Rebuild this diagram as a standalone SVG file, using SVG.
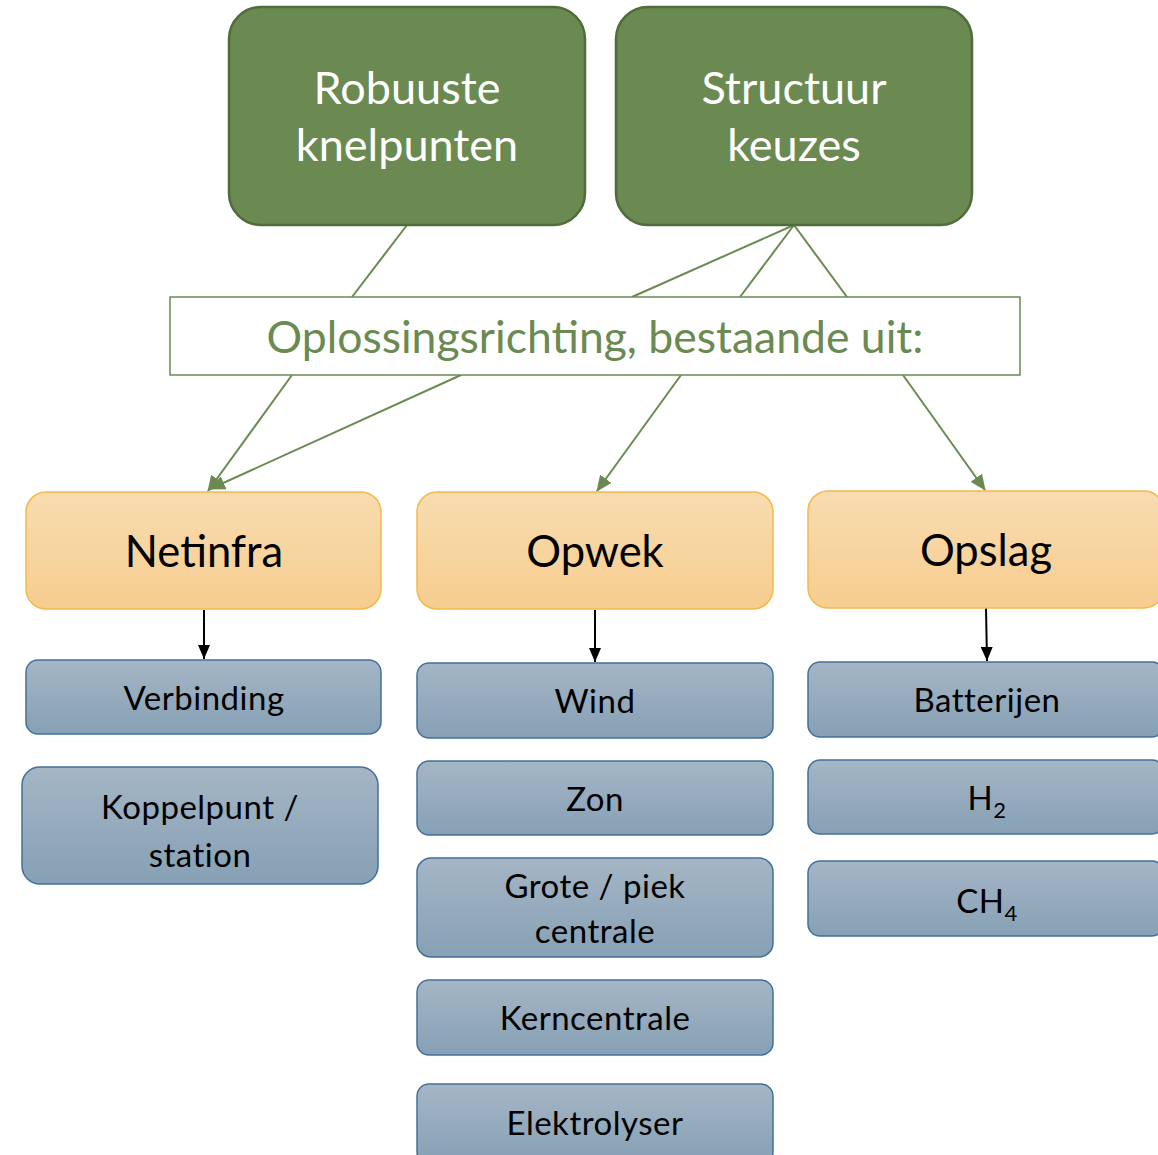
<svg xmlns="http://www.w3.org/2000/svg" width="1158" height="1155" viewBox="0 0 1158 1155">
<defs>
<linearGradient id="gOr" x1="0" y1="0" x2="0" y2="1"><stop offset="0" stop-color="#f8dcb0"/><stop offset="1" stop-color="#f7cd8f"/></linearGradient>
<linearGradient id="gBl" x1="0" y1="0" x2="0" y2="1"><stop offset="0" stop-color="#a5b6c5"/><stop offset="1" stop-color="#86a0b5"/></linearGradient>
<marker id="mG" viewBox="0 0 16 14" refX="15" refY="7" markerWidth="16" markerHeight="14" markerUnits="userSpaceOnUse" orient="auto"><path d="M0,0 L16,7 L0,14 Z" fill="#6a8a51"/></marker>
<marker id="mK" viewBox="0 0 14 12" refX="14" refY="6" markerWidth="14" markerHeight="12" markerUnits="userSpaceOnUse" orient="auto"><path d="M0,0 L14,6 L0,12 Z" fill="#000"/></marker>
</defs>
<style>
.top{fill:#6a8a51;stroke:#4f6d3b;stroke-width:2.5}
.topt{font-family:Lato,"Liberation Sans",sans-serif;font-size:45px;fill:#fff;text-anchor:middle}
.opl{fill:#fff;stroke:#6a8a51;stroke-width:1.5}
.oplt{font-family:Lato,"Liberation Sans",sans-serif;font-size:44.5px;fill:#6a8a51;text-anchor:middle}
.or{fill:url(#gOr);stroke:#f2b94c;stroke-width:1.5}
.ort{font-family:Lato,"Liberation Sans",sans-serif;font-size:43.5px;fill:#000;text-anchor:middle}
.bl{fill:url(#gBl);stroke:#41719c;stroke-width:1.5}
.blt{font-family:Lato,"Liberation Sans",sans-serif;font-size:33px;letter-spacing:0.5px;fill:#000;text-anchor:middle}
.gl{stroke:#6a8a51;stroke-width:2;fill:none}
.kl{stroke:#000;stroke-width:2;fill:none}
</style>
<g id="connectors">
<line class="gl" x1="407" y1="225" x2="352" y2="297"/>
<line class="gl" x1="794" y1="225" x2="632" y2="297"/>
<line class="gl" x1="794" y1="225" x2="740" y2="297"/>
<line class="gl" x1="794" y1="225" x2="847" y2="297"/>
<line class="gl" x1="292" y1="375" x2="208" y2="491" marker-end="url(#mG)"/>
<line class="gl" x1="461" y1="375" x2="210" y2="489" marker-end="url(#mG)"/>
<line class="gl" x1="681" y1="375" x2="597" y2="491" marker-end="url(#mG)"/>
<line class="gl" x1="903" y1="375" x2="985" y2="490" marker-end="url(#mG)"/>
<line class="kl" x1="204" y1="610" x2="204" y2="659" marker-end="url(#mK)"/>
<line class="kl" x1="595" y1="610" x2="595" y2="662" marker-end="url(#mK)"/>
<line class="kl" x1="986" y1="608" x2="987" y2="661" marker-end="url(#mK)"/>
</g>
<g id="robuuste"><rect class="top" x="229" y="7" width="356" height="218" rx="32"/><text class="topt" x="407" y="104">Robuuste</text><text class="topt" x="407" y="161">knelpunten</text></g>
<g id="structuur"><rect class="top" x="616" y="7" width="356" height="218" rx="32"/><text class="topt" x="794" y="104">Structuur</text><text class="topt" x="794" y="161">keuzes</text></g>
<g id="oplossing"><rect class="opl" x="170" y="297" width="850" height="78"/><text class="oplt" x="595" y="353">Oplossingsrichting, bestaande uit:</text></g>
<g id="netinfra"><rect class="or" x="26" y="492" width="355" height="117" rx="20"/><text class="ort" x="204" y="567">Netinfra</text></g>
<g id="opwek"><rect class="or" x="417" y="492" width="356" height="117" rx="20"/><text class="ort" x="595" y="567">Opwek</text></g>
<g id="opslag"><rect class="or" x="808" y="491" width="356" height="117" rx="20"/><text class="ort" x="986" y="566">Opslag</text></g>
<g id="verbinding"><rect class="bl" x="26" y="660" width="355" height="74" rx="12"/><text class="blt" x="204" y="710">Verbinding</text></g>
<g id="koppelpunt"><rect class="bl" x="22" y="767" width="356" height="117" rx="18"/><text class="blt" x="200" y="819">Koppelpunt /</text><text class="blt" x="200" y="867">station</text></g>
<g id="wind"><rect class="bl" x="417" y="663" width="356" height="75" rx="12"/><text class="blt" x="595" y="713">Wind</text></g>
<g id="zon"><rect class="bl" x="417" y="761" width="356" height="74" rx="12"/><text class="blt" x="595" y="811">Zon</text></g>
<g id="grote"><rect class="bl" x="417" y="858" width="356" height="99" rx="14"/><text class="blt" x="595" y="898">Grote / piek</text><text class="blt" x="595" y="943">centrale</text></g>
<g id="kerncentrale"><rect class="bl" x="417" y="980" width="356" height="75" rx="12"/><text class="blt" x="595" y="1030">Kerncentrale</text></g>
<g id="elektrolyser"><rect class="bl" x="417" y="1084" width="356" height="80" rx="12"/><text class="blt" x="595" y="1135">Elektrolyser</text></g>
<g id="batterijen"><rect class="bl" x="808" y="662" width="356" height="75" rx="12"/><text class="blt" x="987" y="712">Batterijen</text></g>
<g id="h2"><rect class="bl" x="808" y="760" width="356" height="74" rx="12"/><text class="blt" x="987" y="810">H<tspan font-size="22" dy="8">2</tspan></text></g>
<g id="ch4"><rect class="bl" x="808" y="861" width="356" height="75" rx="12"/><text class="blt" x="987" y="913">CH<tspan font-size="22" dy="8">4</tspan></text></g>
</svg>
